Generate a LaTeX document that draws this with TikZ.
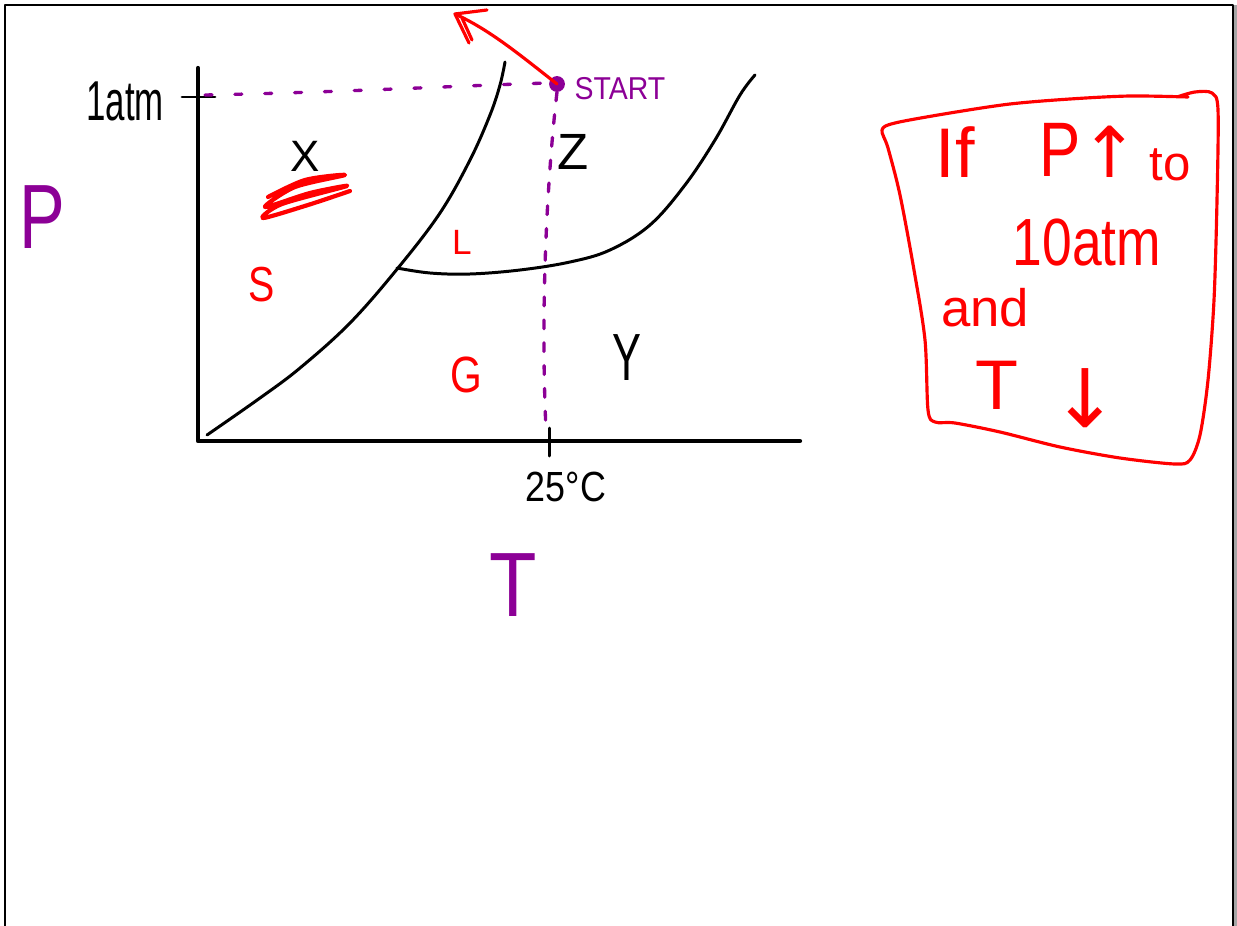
\documentclass[tikz,border=0pt]{standalone}
\usepackage{fontspec}
\setmainfont{Liberation Sans}
\newfontfamily\symfont{DejaVu Sans}
\definecolor{pen}{RGB}{255,0,0}
\definecolor{purp}{RGB}{140,0,150}
\begin{document}
\begin{tikzpicture}[x=0.02cm,y=-0.02cm,line cap=round,line join=round,
  ink/.style={draw=black,line width=1.7pt},
  redink/.style={draw=pen,line width=1.8pt},
  lbl/.style={inner sep=0pt,anchor=center},
  fs/.style={font=\fontsize{#1}{#1}\selectfont}]
\useasboundingbox (0,0) rectangle (1237,926);
\fill[white] (0,0) rectangle (1237,926);
% frame
\fill[gray!70] (1233,5) rectangle (1237,926);
\draw[line width=1.3pt] (5,926) -- (5,5) -- (1233,5) -- (1233,926);
% axes
\draw[line width=2.4pt] (198,68) -- (198,441) -- (800,441);
\draw[line width=1.7pt] (182,97) -- (215,97);
\draw[line width=1.7pt] (549,428) -- (549,456);
% phase curves
\draw[ink] plot[smooth,tension=0.6] coordinates {(207,435) (260,398) (300,368) (350,323) (398,268) (440,213) (470,160) (490,115) (500,85) (505,62)};
\draw[ink] plot[smooth,tension=0.6] coordinates {(397,268) (430,273) (470,274) (520,270) (570,262) (610,250) (650,225) (685,185) (715,140) (740,95) (755,75)};
% purple guides
\draw[purp,line width=1.9pt,dash pattern=on 4pt off 13pt] (205,95) .. controls (350,92) and (450,86) .. (548,83);
\draw[purp,line width=1.9pt,dash pattern=on 5pt off 8pt] (557,92) .. controls (548,170) and (540,300) .. (546,430);
\node[circle,fill=purp,minimum size=9pt,inner sep=0pt] (start) at (557,84) {};
% red arrow out of START
\coordinate (tip) at (455,14);
\draw[redink] (start.center) .. controls (520,55) and (490,30) .. (tip);
\draw[redink] (487,10) -- (tip) -- (469,43);
\draw[redink] (462,18) -- (472,40);
% labels
\node[lbl,fs=32,xscale=0.62] (atm) at (125,101) {1atm};
\node[lbl,fs=18,purp,xscale=0.9] (startl) at (620,89) {START};
\node[lbl,fs=25] (x) at (305,156) {X};
\node[lbl,fs=29] (z) at (573,152) {Z};
\node[lbl,fs=28,pen,xscale=0.8] (s) at (262,285) {S};
\node[lbl,fs=20,pen] (l) at (462,242) {L};
\node[lbl,fs=29,pen,xscale=0.8] (g) at (466,375) {G};
\node[lbl,fs=38,xscale=0.65] (y) at (627,358) {Y};
\node[lbl,fs=24,xscale=0.85] (tc) at (566,487) {25°C};
\node[lbl,fs=52,purp,xscale=0.85] (T) at (513,585) {T};
\node[lbl,fs=52,purp,xscale=0.75] (P) at (42,217) {P};
% scribble under X
\draw[draw=pen,line width=2.4pt] plot[smooth,tension=0.5] coordinates {(268,197) (305,180) (345,175) (295,187) (265,207) (310,193) (347,186) (282,204) (263,218) (308,205) (350,191)};
% red box
\draw[redink] plot[smooth,tension=0.5] coordinates {(1177,97) (1195,92) (1212,93) (1218,110) (1217,200) (1214,300) (1208,380) (1200,435) (1190,460) (1175,464) (1120,458) (1060,447) (1000,432) (955,423) (935,422) (928,410) (925,340) (914,270) (900,195) (888,148) (882,130) (895,123) (950,113) (1010,104) (1070,99) (1130,96) (1188,97)};
\node[lbl,fs=40,pen] (if) at (955,152) {If};
\node[lbl,fs=44,pen,xscale=0.8] (pp) at (1060,150) {P};
\node[lbl,pen,font=\symfont\fontsize{40}{40}\selectfont] (up) at (1110,152) {↑};
\node[lbl,fs=28,pen] (to) at (1170,165) {to};
\node[lbl,fs=38,pen,xscale=0.8] (ten) at (1087,243) {10atm};
\node[lbl,fs=30,pen] (and) at (985,308) {and};
\node[lbl,fs=40,pen] (tt) at (997,385) {T};
\node[lbl,pen,font=\symfont\fontsize{46}{46}\selectfont] (down) at (1085,398) {↓};
\end{tikzpicture}
\end{document}
